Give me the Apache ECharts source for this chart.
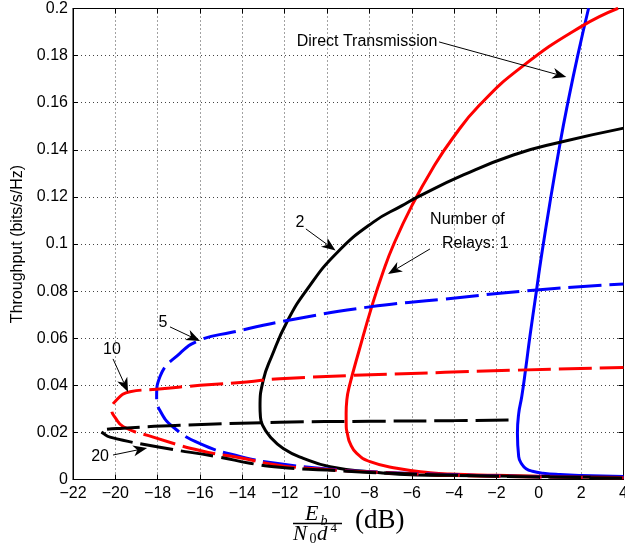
<!DOCTYPE html>
<html>
<head>
<meta charset="utf-8">
<script src="https://cdn.jsdelivr.net/npm/echarts@6/dist/echarts.min.js"></script>
<style>
html,body{margin:0;padding:0;background:#fff;overflow:hidden;}
#chart{width:625px;height:548px;}
</style>
</head>
<body>
<div id="chart"></div>
<script>
// ---- axis settings ----
const xMin = -22, xMax = 4, xStep = 2;
const yMin = 0, yMax = 0.2, yStep = 0.02;

// ---- series data: [Eb/N0d^4 (dB), throughput] ordered along each curve ----
const directTx = [[4,0.0013],[2,0.0017],[1,0.0021],[0.2,0.0027],[-0.3,0.0035],[-0.6,0.0046],[-0.8,0.0065],[-0.95,0.0097],[-1.01,0.0196],[-0.95,0.028],[-0.805,0.0352],[-0.62,0.047],[-0.422,0.0606],[-0.106,0.0805],[0.097,0.0932],[0.508,0.1166],[1.018,0.1434],[1.349,0.159],[1.845,0.1803],[2.351,0.2001]];
const relays1 = [[4,0.0008],[2,0.0011],[0,0.0014],[-2,0.0018],[-4.193,0.0023],[-5.137,0.0029],[-6.71,0.0048],[-7.971,0.0076],[-8.599,0.0111],[-8.916,0.0154],[-9.043,0.0196],[-9.095,0.0224],[-9.1,0.028],[-9.067,0.0338],[-8.953,0.0394],[-8.481,0.055],[-7.89,0.0734],[-7.376,0.0876],[-6.842,0.1001],[-5.977,0.1166],[-5.014,0.1321],[-4.069,0.1449],[-2.798,0.159],[-0.79,0.1753],[1.996,0.1923],[3.744,0.2001]];
const relays2 = [[4,0.0009],[2,0.0011],[0,0.0013],[-2,0.0015],[-4,0.0017],[-5.77,0.0019],[-7.97,0.0033],[-9.86,0.0054],[-11.12,0.009],[-12.07,0.0132],[-12.69,0.0182],[-13.05,0.0231],[-13.15,0.027],[-13.167,0.0309],[-13.011,0.0423],[-12.624,0.0521],[-11.891,0.067],[-10.961,0.0805],[-9.544,0.0962],[-7.815,0.1093],[-6.459,0.1163],[-5.689,0.1201],[-3.563,0.1293],[-1.202,0.1378],[1.004,0.1432],[4.013,0.1492]];
const relays5 = [[4,0.0008],[0,0.0012],[-4,0.002],[-8,0.0033],[-10,0.0045],[-12.24,0.0067],[-14.12,0.0098],[-16.0,0.0152],[-17.27,0.0223],[-17.9,0.0294],[-18.05,0.035],[-17.89,0.0437],[-16.95,0.0536],[-16.0,0.0592],[-14.5,0.0625],[-11.75,0.0677],[-7.99,0.0733],[-4.58,0.0765],[-0.1,0.0805],[4,0.083]];
const relays10 = [[4,0.0007],[0,0.0011],[-4,0.0018],[-8,0.0032],[-10,0.0042],[-12.24,0.006],[-14.12,0.0092],[-16.0,0.0123],[-18.21,0.018],[-19.62,0.0224],[-19.99,0.0261],[-20.17,0.0295],[-20.02,0.033],[-19.31,0.0373],[-18.05,0.0383],[-16.0,0.040],[-13.8,0.0414],[-12.24,0.0428],[-4.43,0.0455],[4,0.0476]];
const relays20 = [[-1.43,0.0253],[-4,0.025],[-8,0.0247],[-12.24,0.0243],[-16.95,0.023],[-19.63,0.0218],[-20.5,0.0212],[-20.7,0.0205],[-20.6,0.0198],[-20.25,0.018],[-17.9,0.0137],[-15.07,0.0095],[-13.64,0.0069],[-12.24,0.0052],[-10.02,0.004],[-8,0.003],[-4,0.0018],[0,0.0011],[4,0.0006]];

// ---- annotations (data coordinates) ----
const annoTexts = [
  {t:'Direct Transmission', p:[-8.11,0.1858]},
  {t:'Number of', p:[-3.37,0.1102]},
  {t:'Relays: 1', p:[-3.0,0.1]},
  {t:'2', p:[-11.28,0.1093]},
  {t:'5', p:[-17.75,0.0665]},
  {t:'10', p:[-20.16,0.055]},
  {t:'20', p:[-20.72,0.0096]}
];
const annoArrows = [
  {from:[-4.71,0.1858], to:[1.3,0.1709]},
  {from:[-5.14,0.0979], to:[-7.12,0.0873]},
  {from:[-11.0,0.1064], to:[-9.6,0.0972]},
  {from:[-17.42,0.0648], to:[-16.0,0.0588]},
  {from:[-20.11,0.0512], to:[-19.4,0.0372]},
  {from:[-20.11,0.0104], to:[-18.5,0.0134]}
];

const chart = echarts.init(document.getElementById('chart'), null, {renderer:'canvas', width:625, height:548});
const FONT = 'Liberation Sans, Arial, Helvetica, sans-serif';
const SERIF = 'Liberation Serif, Times New Roman, serif';
const gridLine = {show:true, lineStyle:{color:'#444', width:1, type:[1,3]}};

function lineSeries(name, data, color, dashed, z){
  return {
    name, type:'line', data, showSymbol:false, symbol:'none', smooth:0.5,
    lineStyle:{color, width:3, type: dashed ? [33,8] : 'solid', cap:'butt', join:'round'},
    z, animation:false
  };
}

const option = {
  animation:false,
  backgroundColor:'#fff',
  grid:{left:73, right:1.5, top:8.5, bottom:68.5, show:true, borderColor:'#000', borderWidth:1,
        containLabel:false, outerBoundsMode:'none'},
  xAxis:[{
    type:'value', min:xMin, max:xMax, interval:xStep,
    axisLine:{show:true, onZero:false, lineStyle:{color:'#000', width:1}},
    axisTick:{show:true, inside:true, length:5, lineStyle:{color:'#000'}},
    axisLabel:{color:'#000', fontFamily:FONT, fontSize:16, margin:6, hideOverlap:false,
      formatter:v=>String(v).replace('-', '\u2212')},
    splitLine:gridLine
  },{
    type:'value', position:'top', min:xMin, max:xMax, interval:xStep,
    axisLine:{show:true, onZero:false, lineStyle:{color:'#000'}},
    axisTick:{show:true, inside:true, length:5, lineStyle:{color:'#000'}},
    axisLabel:{show:false}, splitLine:{show:false}
  }],
  yAxis:[{
    type:'value', min:yMin, max:yMax, interval:yStep,
    name:'Throughput (bits/s/Hz)', nameLocation:'middle', nameGap:38,
    nameTextStyle:{color:'#000', fontFamily:FONT, fontSize:16},
    axisLine:{show:true, onZero:false, lineStyle:{color:'#000', width:1}},
    axisTick:{show:true, inside:true, length:5, lineStyle:{color:'#000'}},
    axisLabel:{color:'#000', fontFamily:FONT, fontSize:16, margin:5},
    splitLine:gridLine
  },{
    type:'value', position:'right', min:yMin, max:yMax, interval:yStep,
    axisLine:{show:true, onZero:false, lineStyle:{color:'#000'}},
    axisTick:{show:true, inside:true, length:5, lineStyle:{color:'#000'}},
    axisLabel:{show:false}, splitLine:{show:false}
  }],
  series:[
    lineSeries('Direct', directTx, '#0000ff', false, 2),
    lineSeries('1 relay', relays1, '#ff0000', false, 2),
    lineSeries('2 relays', relays2, '#000000', false, 2),
    lineSeries('5 relays', relays5, '#0000ff', true, 3),
    lineSeries('10 relays', relays10, '#ff0000', true, 3),
    lineSeries('20 relays', relays20, '#000000', true, 3)
  ]
};
chart.setOption(option);

// ---- build annotations and axis title in pixel space ----
const px = p => chart.convertToPixel({xAxisIndex:0, yAxisIndex:0}, p);
const graphics = [];
annoTexts.forEach(a=>{
  const q = px(a.p);
  graphics.push({type:'text', x:q[0], y:q[1], z:10,
    style:{text:a.t, fill:'#000', font:'16px '+FONT, textAlign:'center', textVerticalAlign:'middle'}});
});
annoArrows.forEach(a=>{
  const s = px(a.from), e = px(a.to);
  const dx = e[0]-s[0], dy = e[1]-s[1], len = Math.hypot(dx,dy);
  const ux = dx/len, uy = dy/len, nx = -uy, ny = ux;
  const L = 14, W = 5.5, N = 4;
  graphics.push({type:'line', z:10, shape:{x1:s[0], y1:s[1], x2:e[0]-ux*(L-N), y2:e[1]-uy*(L-N)},
    style:{stroke:'#000', lineWidth:1}});
  graphics.push({type:'polygon', z:10, shape:{points:[
    [e[0], e[1]],
    [e[0]-ux*L+nx*W, e[1]-uy*L+ny*W],
    [e[0]-ux*(L-N), e[1]-uy*(L-N)],
    [e[0]-ux*L-nx*W, e[1]-uy*L-ny*W]
  ]}, style:{fill:'#000'}});
});
// x-axis title: Eb / (N0 d^4) (dB)
const tx = (text, x, y, size, italic, align) => ({type:'text', x, y, z:10,
  style:{text, fill:'#000', font:(italic?'italic ':'')+size+'px '+SERIF, textAlign:align||'left', textVerticalAlign:'middle'}});
graphics.push(tx('E', 305, 514, 22, true));
graphics.push(tx('b', 320.5, 521, 14, true));
graphics.push({type:'line', z:10, shape:{x1:293, y1:523.5, x2:342, y2:523.5}, style:{stroke:'#000', lineWidth:1.3}});
graphics.push(tx('N', 293, 534.5, 21, true));
graphics.push(tx('0', 309.5, 539.5, 14, false));
graphics.push(tx('d', 317, 534, 21, true));
graphics.push(tx('4', 330.5, 529, 13, false));
graphics.push(tx('(dB)', 355, 521, 27, false));
chart.setOption({graphic:graphics});
</script>
</body>
</html>
